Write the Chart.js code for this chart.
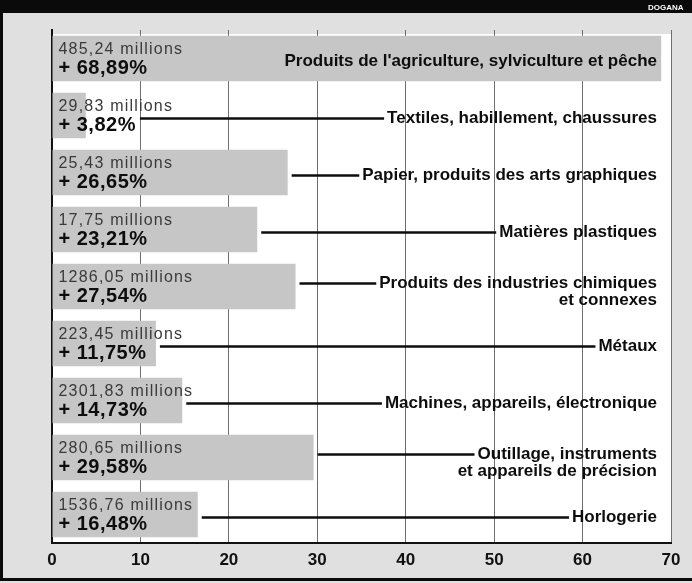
<!DOCTYPE html>
<html>
<head>
<meta charset="utf-8">
<script src="https://cdn.jsdelivr.net/npm/chart.js@4.4.1/dist/chart.umd.min.js"></script>
<style>
  html, body { margin: 0; padding: 0; background: #ffffff; }
  canvas { display: block; }
</style>
</head>
<body>
<canvas id="exports" width="692" height="583"></canvas>
<script>
// Categories (top to bottom)
var categories = [
    ["Produits de l'agriculture, sylviculture et pêche"],
    ['Textiles, habillement, chaussures'],
    ['Papier, produits des arts graphiques'],
    ['Matières plastiques'],
    ['Produits des industries chimiques', 'et connexes'],
    ['Métaux'],
    ['Machines, appareils, électronique'],
    ['Outillage, instruments', 'et appareils de précision'],
    ['Horlogerie']
];

// growth in percent (bar length)
var growth = [68.89, 3.82, 26.65, 23.21, 27.54, 11.75, 14.73, 29.58, 16.48];

// amounts in millions (printed on the bars)
var amounts = ['485,24', '29,83', '25,43', '17,75', '1286,05', '223,45', '2301,83', '280,65', '1536,76'];

var xTicks = [0, 10, 20, 30, 40, 50, 60, 70];

function pct(v) {
    return '+ ' + v.toFixed(2).replace('.', ',') + '%';
}

var framePlugin = {
    id: 'frame',
    beforeDraw: function (chart) {
        var c = chart.ctx, a = chart.chartArea;
        c.save();
        c.fillStyle = '#e0e0e0';
        c.fillRect(0, 0, chart.width, chart.height);
        c.fillStyle = '#ffffff';
        c.fillRect(a.left, a.top + 4, a.right - a.left, a.bottom - a.top - 4);
        // header band
        c.fillStyle = '#0a0a0a';
        c.fillRect(0, 0, chart.width, 13);
        c.fillStyle = '#ffffff';
        c.font = 'bold 8px "Liberation Sans", Arial, sans-serif';
        c.textAlign = 'left';
        c.textBaseline = 'alphabetic';
        c.fillText('DOGANA', 648, 10);
        // outer frame
        c.strokeStyle = '#0a0a0a';
        c.lineWidth = 3;
        c.beginPath();
        c.moveTo(1.5, 13);
        c.lineTo(1.5, 579.5);
        c.lineTo(chart.width, 579.5);
        c.stroke();
        c.restore();
    }
};

var labelPlugin = {
    id: 'barLabels',
    afterDatasetsDraw: function (chart) {
        var c = chart.ctx;
        var bars = chart.getDatasetMeta(0).data;
        var labelRight = 657;
        c.save();
        bars.forEach(function (bar, i) {
            var top = bar.y - bar.height / 2;
            var left = bar.base;
            // amount in millions
            c.textAlign = 'left';
            c.textBaseline = 'alphabetic';
            c.fillStyle = '#3a3a3a';
            c.font = '16px "Liberation Sans", Arial, sans-serif';
            c.letterSpacing = '1.2px';
            c.fillText(amounts[i] + ' millions', left + 6, top + 18);
            // growth in percent
            c.fillStyle = '#0d0d0d';
            c.font = 'bold 20px "Liberation Sans", Arial, sans-serif';
            c.letterSpacing = '0.5px';
            var p = pct(growth[i]);
            c.fillText(p, left + 6, top + 38);
            var textEnd = left + 6 + c.measureText(p).width;

            // category label
            c.letterSpacing = '0px';
            c.font = 'bold 17px "Liberation Sans", Arial, sans-serif';
            c.textAlign = 'right';
            c.textBaseline = 'middle';
            c.fillStyle = '#0d0d0d';
            var lines = categories[i];
            var y0 = lines.length > 1 ? bar.y - 3 : bar.y + 3;
            lines.forEach(function (t, k) {
                c.fillText(t, labelRight, y0 + k * 17);
            });
            // leader line
            if (i > 0) {
                var w = c.measureText(lines[0]).width;
                var start = Math.max(bar.x, textEnd) + 4;
                var end = labelRight - w - 3;
                c.strokeStyle = '#0d0d0d';
                c.lineWidth = 2.5;
                c.beginPath();
                c.moveTo(start, y0);
                c.lineTo(end, y0);
                c.stroke();
            }
        });
        c.restore();
    }
};

var ctx = document.getElementById('exports').getContext('2d');
var exportsChart = new Chart(ctx, {
    type: 'bar',
    data: {
        labels: categories.map(function (l) { return l.join(' '); }),
        datasets: [{
            data: growth,
            backgroundColor: '#c6c6c6',
            borderWidth: 0,
            barPercentage: 0.8,
            categoryPercentage: 1.0
        }]
    },
    options: {
        indexAxis: 'y',
        responsive: false,
        animation: false,
        layout: { padding: { left: 52, right: 21, top: 30, bottom: 0 } },
        scales: {
            x: {
                min: 0,
                max: 70,
                afterBuildTicks: function (scale) {
                    scale.ticks = xTicks.map(function (v) { return { value: v }; });
                },
                afterFit: function (scale) { scale.height = 40; },
                grid: { color: '#6e6e6e', lineWidth: 1, drawTicks: false },
                border: { display: true, color: '#111111', width: 2 },
                ticks: {
                    padding: 7,
                    color: '#111111',
                    font: { family: '"Liberation Sans", Arial, sans-serif', size: 17, weight: 'bold' }
                }
            },
            y: {
                afterFit: function (scale) { scale.width = 0; },
                grid: { display: false },
                border: { display: true, color: '#111111', width: 2 },
                ticks: { display: false }
            }
        },
        plugins: {
            legend: { display: false },
            tooltip: { enabled: false }
        }
    },
    plugins: [framePlugin, labelPlugin]
});
</script>
</body>
</html>
